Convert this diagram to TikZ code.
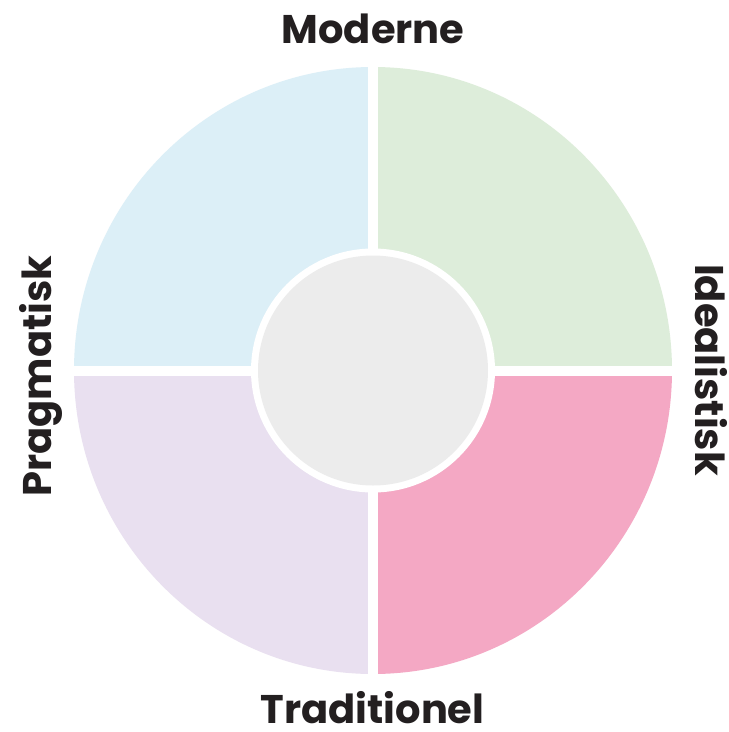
\documentclass[tikz,border=0pt]{standalone}
\usepackage{fontspec}
\setmainfont{Poppins}[BoldFont={Poppins Bold}]
\definecolor{qblue}{HTML}{DCEFF7}
\definecolor{qgreen}{HTML}{DDEDDA}
\definecolor{qlav}{HTML}{E9E0F0}
\definecolor{qpink}{HTML}{F4A8C4}
\definecolor{qgray}{HTML}{ECECEC}
\definecolor{txt}{HTML}{231F20}
\begin{document}
\begin{tikzpicture}[x=1pt,y=-1pt,
  lbl/.style={font=\fontsize{40}{40}\selectfont\bfseries, text=txt, inner sep=0pt, anchor=base},
  gapline/.style={draw=white, line width=10pt}]
\useasboundingbox (0,0) rectangle (729,732);
\fill[white] (0,0) rectangle (729,732);
\coordinate (c) at (373,370.5);
% quadrants
\fill[qblue] (c) -- ++(-299,0) arc[start angle=180, end angle=90, x radius=299, y radius=-303.5] -- cycle;
\fill[qgreen] (c) -- ++(0,-303.5) arc[start angle=90, end angle=0, x radius=299, y radius=-303.5] -- cycle;
\fill[qpink] (c) -- ++(299,0) arc[start angle=0, end angle=-90, x radius=299, y radius=-303.5] -- cycle;
\fill[qlav] (c) -- ++(0,303.5) arc[start angle=-90, end angle=-180, x radius=299, y radius=-303.5] -- cycle;
% gaps
\coordinate (gt) at (373,55);
\coordinate (gb) at (373,690);
\coordinate (gl) at (60,370.5);
\coordinate (gr) at (690,370.5);
\draw[gapline] (gt) -- (gb);
\draw[gapline] (gl) -- (gr);
% centre disc
\fill[white] (c) circle[radius=122];
\fill[qgray] (c) circle[radius=115];
% labels
\node[lbl] (mod) at (373,43) {Moderne};
\node[lbl] (tra) at (372.5,723) {Traditionel};
\node[lbl, rotate=90] (pra) at (52,376) {Pragmatisk};
\node[lbl, rotate=-90] (ide) at (695,370) {Idealistisk};
\end{tikzpicture}
\end{document}
